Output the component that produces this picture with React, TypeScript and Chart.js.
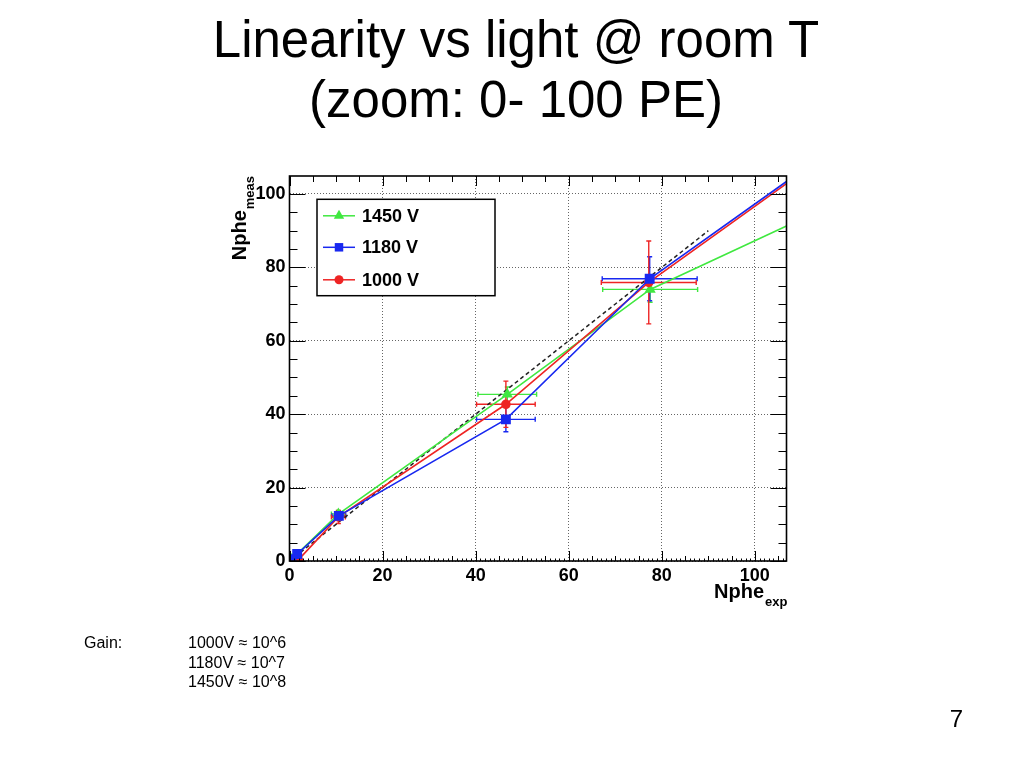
import React, { useEffect, useRef } from "react";
import { Chart, registerables } from "chart.js";

Chart.register(...registerables);

// ---------------- data ----------------
const SERIES_LABELS = ["1450 V", "1180 V", "1000 V"];

const X_1450 = [0.5, 10.5, 46.8, 77.5];
const Y_1450 = [0.5, 12.8, 45.4, 74.0];
const XERR_1450 = [0.4, 1.5, 6.3, 10.2];
const YERR_1450 = [0.4, 1.0, 2.0, 3.5];

const X_1180 = [0.4, 1.65, 10.6, 46.5, 77.4];
const Y_1180 = [0.5, 1.9, 12.3, 38.6, 76.9];
const XERR_1180 = [0.3, 0.4, 1.5, 6.3, 10.2];
const YERR_1180 = [0.3, 0.4, 1.2, 3.4, 6.0];

const X_1000 = [1.9, 10.5, 46.5, 77.2];
const Y_1000 = [0.3, 12.0, 42.7, 75.9];
const XERR_1000 = [0.4, 1.5, 6.3, 10.2];
const YERR_1000 = [0.4, 1.8, 6.3, 11.3];

// each graph line continues towards its next (out-of-zoom) point; value read at the frame edge
const EDGE_X = 106.8;
const EDGE_Y = [91.3, 103.4, 102.8]; // 1450 V, 1180 V, 1000 V

// ideal linearity reference (dashed)
const DIAG_X = [0, 90];
const DIAG_Y = [0, 90];

const X_RANGE = [0, 106.8];
const Y_RANGE = [0, 104.9];
const MAJOR_STEP = 20;

const GAIN_LINES = ["1000V \u2248 10^6", "1180V \u2248 10^7", "1450V \u2248 10^8"];

// ---------------- styles ----------------
const GREEN = "rgb(64,232,64)";
const BLUE = "rgb(24,40,240)";
const RED = "rgb(238,36,36)";
const FONT = "'Liberation Sans', Arial, Helvetica, sans-serif";

const pts = (xs: number[], ys: number[]) => xs.map((x, i) => ({ x, y: ys[i] }));

const errorBarPlugin = {
  id: "errorBars",
  beforeDatasetsDraw(chart: any) {
    const { ctx, chartArea: a, scales } = chart;
    const xs = scales.x, ys = scales.y;
    ctx.save();
    ctx.beginPath();
    ctx.rect(a.left, a.top, a.right - a.left, a.bottom - a.top);
    ctx.clip();
    chart.data.datasets.forEach((ds: any) => {
      if (!ds.errX) return;
      ctx.strokeStyle = ds.borderColor;
      ctx.lineWidth = 1.4;
      ds.errX.forEach((ex: number, i: number) => {
        const p = ds.data[i];
        const ey = ds.errY[i];
        const cx = xs.getPixelForValue(p.x);
        const cy = ys.getPixelForValue(p.y);
        const x1 = xs.getPixelForValue(p.x - ex);
        const x2 = xs.getPixelForValue(p.x + ex);
        const y1 = ys.getPixelForValue(p.y - ey);
        const y2 = ys.getPixelForValue(p.y + ey);
        const c = 2.5;
        ctx.beginPath();
        ctx.moveTo(x1, cy); ctx.lineTo(x2, cy);
        ctx.moveTo(cx, y1); ctx.lineTo(cx, y2);
        ctx.moveTo(x1, cy - c); ctx.lineTo(x1, cy + c);
        ctx.moveTo(x2, cy - c); ctx.lineTo(x2, cy + c);
        ctx.moveTo(cx - c, y1); ctx.lineTo(cx + c, y1);
        ctx.moveTo(cx - c, y2); ctx.lineTo(cx + c, y2);
        ctx.stroke();
      });
    });
    ctx.restore();
  },
};

function drawMarker(ctx: CanvasRenderingContext2D, style: string, x: number, y: number, r: number) {
  ctx.beginPath();
  if (style === "triangle") {
    ctx.moveTo(x, y - r);
    ctx.lineTo(x + r * 0.866, y + r * 0.5);
    ctx.lineTo(x - r * 0.866, y + r * 0.5);
    ctx.closePath();
  } else if (style === "rect") {
    const s = r * 0.707;
    ctx.rect(x - s, y - s, 2 * s, 2 * s);
  } else {
    ctx.arc(x, y, r, 0, Math.PI * 2);
  }
  ctx.fill();
}

const framePlugin = {
  id: "rootFrame",
  afterDraw(chart: any) {
    const { ctx, chartArea: a, scales } = chart;
    const xs = scales.x, ys = scales.y;
    ctx.save();
    ctx.strokeStyle = "#000";
    ctx.lineWidth = 1;
    ctx.beginPath();
    // x ticks (bottom every 1, top every 5)
    for (let v = Math.ceil(X_RANGE[0]); v <= X_RANGE[1]; v++) {
      const px = Math.round(xs.getPixelForValue(v)) + 0.5;
      const major = v % MAJOR_STEP === 0;
      const mid = v % 5 === 0;
      const lb = major ? 10 : mid ? 5 : 2.5;
      ctx.moveTo(px, a.bottom); ctx.lineTo(px, a.bottom - lb);
      if (mid) {
        const lt = major ? 10 : 6;
        ctx.moveTo(px, a.top); ctx.lineTo(px, a.top + lt);
      }
    }
    // y ticks every 5 on both sides
    for (let v = Math.ceil(Y_RANGE[0]); v <= Y_RANGE[1]; v += 5) {
      const py = Math.round(ys.getPixelForValue(v)) + 0.5;
      const major = v % MAJOR_STEP === 0;
      const l = major ? 16 : 8;
      ctx.moveTo(a.left, py); ctx.lineTo(a.left + l, py);
      ctx.moveTo(a.right, py); ctx.lineTo(a.right - l, py);
    }
    ctx.stroke();
    ctx.lineWidth = 1.6;
    ctx.strokeRect(a.left, a.top, a.right - a.left, a.bottom - a.top);

    // axis titles with subscripts
    ctx.fillStyle = "#000";
    ctx.textBaseline = "alphabetic";
    ctx.textAlign = "left";
    const big = `bold 20px ${FONT}`;
    const small = `bold 13px ${FONT}`;
    ctx.font = big;
    const wN = ctx.measureText("Nphe").width;
    ctx.font = small;
    const wExp = ctx.measureText("exp").width;
    const wMeas = ctx.measureText("meas").width;
    // x title
    const xStart = a.right - (wN + wExp);
    ctx.font = big;
    ctx.fillText("Nphe", xStart, 598);
    ctx.font = small;
    ctx.fillText("exp", xStart + wN + 1, 606);
    // y title (rotated)
    ctx.save();
    ctx.translate(246, a.top + wN + wMeas + 1);
    ctx.rotate(-Math.PI / 2);
    ctx.font = big;
    ctx.fillText("Nphe", 0, 0);
    ctx.font = small;
    ctx.fillText("meas", wN + 1, 8);
    ctx.restore();

    // legend box
    const bx = a.left + 27.5, by = a.top + 23.3, bw = 178, bh = 96.4;
    ctx.fillStyle = "#fff";
    ctx.fillRect(bx, by, bw, bh);
    ctx.strokeStyle = "#000";
    ctx.lineWidth = 1.5;
    ctx.strokeRect(bx, by, bw, bh);
    const rowsY = [16.5, 48, 80.5];
    chart.data.datasets.slice(0, 3).forEach((ds: any, i: number) => {
      const ry = by + rowsY[i];
      ctx.strokeStyle = ds.borderColor;
      ctx.fillStyle = ds.borderColor;
      ctx.lineWidth = 1.5;
      ctx.beginPath();
      ctx.moveTo(bx + 6, ry); ctx.lineTo(bx + 38, ry);
      ctx.stroke();
      drawMarker(ctx, ds.pointStyle, bx + 22, ry, ds.pointStyle === "circle" ? 4.5 : 6);
      ctx.fillStyle = "#000";
      ctx.font = `bold 18px ${FONT}`;
      ctx.textBaseline = "middle";
      ctx.fillText(ds.label, bx + 45, ry + 1);
    });
    ctx.restore();
  },
};

function ChartCanvas() {
  const ref = useRef<HTMLCanvasElement | null>(null);
  useEffect(() => {
    if (!ref.current) return;
    const mkSeries = (
      label: string, xs: number[], ys: number[], ex: number[], ey: number[],
      edgeY: number, color: string, style: string, r: number, order: number
    ) => ({
      label,
      data: [...pts(xs, ys), { x: EDGE_X, y: edgeY }],
      showLine: true,
      borderColor: color,
      backgroundColor: color,
      borderWidth: 1.6,
      pointStyle: style,
      pointRadius: (c: any) => (c.dataIndex < xs.length ? r : 0),
      pointBorderWidth: 0,
      pointHoverRadius: 0,
      errX: ex,
      errY: ey,
      order,
    });
    const chart = new Chart(ref.current, {
      type: "scatter",
      data: {
        datasets: [
          mkSeries(SERIES_LABELS[0], X_1450, Y_1450, XERR_1450, YERR_1450, EDGE_Y[0], GREEN, "triangle", 6.5, 2),
          mkSeries(SERIES_LABELS[1], X_1180, Y_1180, XERR_1180, YERR_1180, EDGE_Y[1], BLUE, "rect", 7, 0),
          mkSeries(SERIES_LABELS[2], X_1000, Y_1000, XERR_1000, YERR_1000, EDGE_Y[2], RED, "circle", 4.8, 1),
          {
            label: "ideal",
            data: pts(DIAG_X, DIAG_Y),
            showLine: true,
            borderColor: "#222",
            borderWidth: 1.5,
            borderDash: [4, 3],
            pointRadius: 0,
            order: 3,
          },
        ] as any,
      },
      options: {
        animation: false,
        responsive: false,
        layout: { padding: { left: 289.5 - 40, top: 176, right: 1024 - 786.5, bottom: 768 - 561 - 30 } },
        plugins: { legend: { display: false }, tooltip: { enabled: false }, title: { display: false } },
        scales: {
          x: {
            type: "linear",
            min: X_RANGE[0],
            max: X_RANGE[1],
            afterFit: (s: any) => { s.height = 30; },
            ticks: {
              stepSize: MAJOR_STEP,
              includeBounds: false,
              color: "#000",
              padding: 4,
              maxRotation: 0,
              font: { family: FONT, size: 18, weight: "bold" },
            },
            grid: { color: "#666", lineWidth: 1, drawTicks: false },
            border: { display: false, dash: [1, 2] },
          },
          y: {
            type: "linear",
            min: Y_RANGE[0],
            max: Y_RANGE[1],
            afterFit: (s: any) => { s.width = 40; },
            ticks: {
              stepSize: MAJOR_STEP,
              includeBounds: false,
              color: "#000",
              padding: 4,
              font: { family: FONT, size: 18, weight: "bold" },
            },
            grid: { color: "#666", lineWidth: 1, drawTicks: false },
            border: { display: false, dash: [1, 2] },
          },
        },
      } as any,
      plugins: [errorBarPlugin, framePlugin],
    });
    return () => chart.destroy();
  }, []);
  return (
    <canvas
      ref={ref}
      width={1024}
      height={768}
      style={{ position: "absolute", left: 0, top: 0, width: 1024, height: 768 }}
    />
  );
}

export default function App() {
  return (
    <div
      style={{
        position: "absolute", left: 0, top: 0, width: 1024, height: 768,
        background: "#fff", overflow: "hidden", fontFamily: FONT, color: "#000",
      }}
    >
      <ChartCanvas />
      <div
        style={{
          position: "absolute", left: 4, top: 10, width: 1024, textAlign: "center",
          fontSize: 51, lineHeight: "60px",
        }}
      >
        <div>Linearity vs light @ room T</div>
        <div>(zoom: 0- 100 PE)</div>
      </div>
      <div style={{ position: "absolute", left: 84, top: 633, fontSize: 16, lineHeight: "19.5px" }}>Gain:</div>
      <div style={{ position: "absolute", left: 188, top: 633, fontSize: 16, lineHeight: "19.5px" }}>
        {GAIN_LINES.map((g) => (
          <div key={g}>{g}</div>
        ))}
      </div>
      <div style={{ position: "absolute", right: 61, top: 707, fontSize: 24, lineHeight: "24px" }}>7</div>
    </div>
  );
}
